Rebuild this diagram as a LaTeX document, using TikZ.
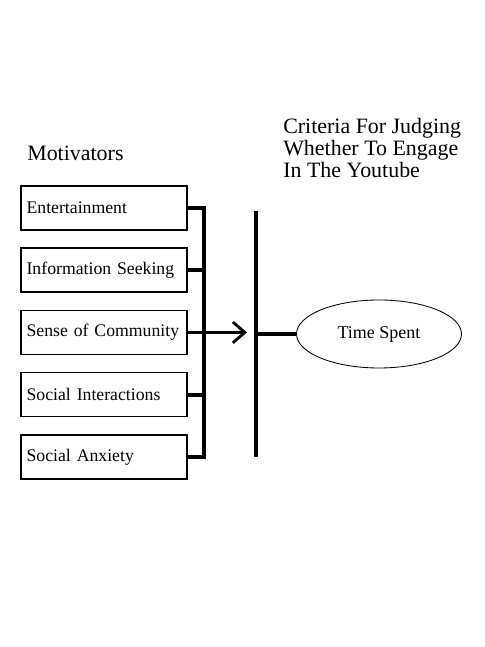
\documentclass[tikz,border=0pt]{standalone}
\usepackage{fontspec}
\setmainfont{Liberation Serif}
\usetikzlibrary{arrows.meta, positioning, shapes.geometric}
\tikzset{
	motive/.style  ={rectangle, draw=black, line width=1pt, minimum width=4.15cm, minimum height=1.1cm, text width=3.87cm, inner xsep=0.14cm, align=left, font=\fontsize{12.6}{15}\selectfont},
	outcome/.style ={ellipse, draw=black, line width=0.6pt, minimum width=4.125cm, minimum height=1.7cm, font=\fontsize{12.8}{15}\selectfont},
	heading/.style ={anchor=base west, align=left, inner sep=0pt, font=\fontsize{15.6}{15.9}\selectfont},
	brace/.style   ={line width=2.8pt},
	flow/.style    ={-{Straight Barb[length=3mm, width=5.2mm]}, line width=2pt},
}
\begin{document}
\begin{tikzpicture}
	\useasboundingbox (0,0) rectangle (12.1,16.175);
	% motivators
	\node[motive] (ent) at (2.6,10.975) {Entertainment};
	\node[motive, below=0.42cm of ent] (info) {Information Seeking};
	\node[motive, below=0.42cm of info] (comm) {Sense of Community};
	\node[motive, below=0.42cm of comm] (inter) {Social Interactions};
	\node[motive, below=0.42cm of inter] (anx) {Social Anxiety};
	\node[heading] (mot) at (0.675,12.15) {Motivators};
	% bracket joining the boxes
	\draw[brace] (ent.east) -- ++(0.4,0) coordinate (btop) |- (anx.east);
	\foreach \b in {info,inter} \draw[brace] (\b.east) -- (\b.east -| btop);
	% criteria bar
	\coordinate (bartop) at (6.4,10.9);
	\coordinate (barbot) at (6.4,4.75);
	\draw[line width=2.8pt] (bartop) -- (barbot);
	\draw[flow] (comm.east) -- (6.175,0 |- comm.east);
	\node[heading] (crit) at (7.075,11.725) {Criteria For Judging\\Whether To Engage\\In The Youtube};
	% outcome
	\node[outcome] (time) at (9.475,7.825) {Time Spent};
	\draw[line width=2.2pt] (bartop |- time.west) -- (time.west);
\end{tikzpicture}
\end{document}
